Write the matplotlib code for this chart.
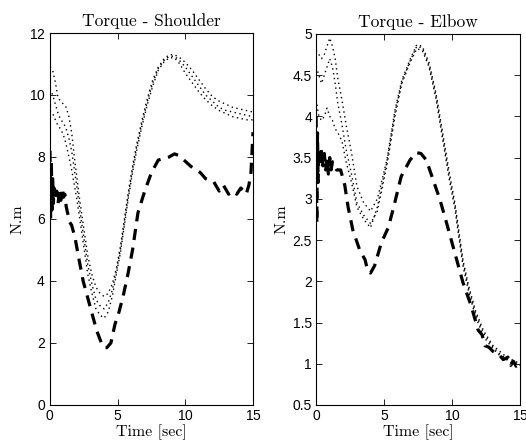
import matplotlib
matplotlib.use("Agg")
import matplotlib.pyplot as plt

plt.rcParams['font.family'] = ['Liberation Sans', 'DejaVu Sans']
plt.rcParams['axes.formatter.use_mathtext'] = True

# === Shoulder torque ===
sh_dash_t = [0, 0.05, 0.1, 0.15, 0.2, 0.25, 0.3, 0.4, 0.5, 0.6, 0.7, 0.8, 0.9, 1.0, 1.1, 1.2,
             1.3, 1.45, 1.6, 1.85, 2.1, 2.45, 2.95, 3.45, 3.8, 4.0, 4.2, 4.5, 4.8, 5.1, 5.4,
             5.75, 6.1, 6.5, 7.0, 7.5, 8.0, 8.4, 8.8, 9.2, 9.5, 9.9, 10.4, 11.1, 11.5, 12.1,
             12.5, 12.8, 13.2, 13.5, 13.8, 14.1, 14.3, 14.5, 14.7, 14.85, 15]
sh_dash_v = [8.2, 6.0, 7.9, 6.3, 7.3, 6.5, 7.0, 6.6, 6.9, 6.5, 6.9, 6.6, 7.0, 6.7, 6.8, 6.4,
             6.2, 5.9, 5.8, 5.4, 4.8, 4.0, 3.2, 2.4, 2.0, 1.85, 1.85, 2.0, 2.6, 3.0, 3.5,
             4.2, 5.0, 6.2, 6.9, 7.5, 7.9, 7.95, 8.0, 8.1, 8.05, 7.9, 7.7, 7.5, 7.3, 7.2,
             6.9, 7.1, 6.8, 6.9, 6.8, 7.0, 6.9, 6.8, 7.1, 7.5, 8.8]

sh_dot_t = [0, 0.2, 0.4, 0.6, 0.8, 1.0, 1.2, 1.4, 1.6, 1.8, 2.0, 2.2, 2.5, 2.8, 3.1, 3.4, 3.7,
            4.0, 4.3, 4.6, 4.9, 5.2, 5.5, 5.8, 6.1, 6.4, 6.8, 7.2, 7.6, 8.0, 8.4, 8.8, 9.2,
            9.6, 10.0, 10.5, 11.0, 11.5, 12.0, 12.5, 13.0, 13.5, 14.0, 14.5, 15.0]
sh_dot_a = [10.9, 10.8, 10.4, 9.9, 9.8, 9.7, 9.6, 9.3, 8.8, 8.0, 7.3, 6.6, 5.7, 4.8, 4.2, 3.8, 3.6,
            3.5, 3.6, 3.9, 4.4, 5.1, 6.0, 6.9, 7.7, 8.4, 9.2, 9.9, 10.5, 10.9, 11.15, 11.3, 11.3,
            11.2, 11.05, 10.8, 10.5, 10.2, 9.95, 9.8, 9.7, 9.6, 9.55, 9.5, 9.45]
sh_dot_b = [10.2, 10.0, 9.7, 9.4, 9.2, 9.1, 8.9, 8.6, 8.2, 7.6, 7.0, 6.3, 5.4, 4.5, 3.9, 3.4, 3.2,
            3.1, 3.3, 3.7, 4.3, 5.0, 5.9, 6.8, 7.6, 8.3, 9.1, 9.8, 10.4, 10.85, 11.1, 11.25, 11.25,
            11.1, 10.9, 10.6, 10.3, 10.0, 9.8, 9.6, 9.5, 9.45, 9.4, 9.35, 9.3]
sh_dot_c = [9.5, 9.4, 9.2, 9.0, 8.9, 8.7, 8.4, 8.0, 7.6, 7.1, 6.6, 6.0, 5.1, 4.2, 3.6, 3.1, 2.9,
            2.8, 3.0, 3.5, 4.2, 4.9, 5.8, 6.7, 7.5, 8.2, 9.0, 9.7, 10.3, 10.8, 11.05, 11.2, 11.2,
            11.0, 10.7, 10.4, 10.1, 9.85, 9.65, 9.5, 9.4, 9.3, 9.25, 9.2, 9.2]

# === Elbow torque ===
el_dash_t = [0, 0.05, 0.1, 0.15, 0.2, 0.3, 0.4, 0.5, 0.6, 0.7, 0.8, 0.9, 1.0, 1.1, 1.2, 1.35,
             1.5, 1.8, 2.1, 2.35, 2.7, 3.2, 3.6, 3.8, 4.0, 4.3, 4.8, 5.3, 5.7, 6.25, 6.9, 7.35,
             7.7, 8.1, 8.6, 9.1, 9.6, 10.2, 10.8, 11.4, 11.9, 12.2, 12.4, 12.7, 13.0, 13.4,
             13.75, 14.1, 14.3, 14.5, 14.7, 15]
el_dash_v = [4.0, 2.7, 3.8, 3.2, 3.6, 3.4, 3.6, 3.4, 3.55, 3.35, 3.5, 3.3, 3.5, 3.35, 3.45, 3.4,
             3.35, 3.35, 3.17, 2.9, 2.62, 2.38, 2.26, 2.12, 2.1, 2.19, 2.47, 2.65, 2.9, 3.27, 3.47, 3.56,
             3.55, 3.47, 3.23, 2.99, 2.7, 2.34, 1.98, 1.7, 1.41, 1.35, 1.22, 1.2, 1.15, 1.12,
             1.05, 1.08, 0.98, 1.03, 0.97, 1.0]

el_dot_t = [0, 0.2, 0.4, 0.6, 0.8, 1.0, 1.2, 1.4, 1.6, 1.9, 2.2, 2.6, 3.0, 3.5, 4.0, 4.5, 5.2,
            5.8, 6.3, 6.9, 7.4, 7.8, 8.3, 8.8, 9.3, 9.8, 10.2, 10.5, 10.8, 11.2, 11.7, 12.3,
            13.0, 13.5, 14.0, 14.5, 15.0]
el_dot_a = [4.8, 4.75, 4.7, 4.75, 4.85, 4.95, 4.85, 4.7, 4.45, 4.2, 3.9, 3.56, 3.15, 2.95, 2.85, 3.0, 3.47,
            4.08, 4.44, 4.69, 4.87, 4.85, 4.65, 4.29, 3.8, 3.31, 2.95, 2.6, 2.25, 1.95, 1.65, 1.4,
            1.22, 1.15, 1.08, 1.04, 1.0]
el_dot_b = [4.6, 4.5, 4.4, 4.5, 4.6, 4.7, 4.6, 4.4, 4.15, 3.9, 3.6, 3.3, 2.95, 2.8, 2.7, 2.85, 3.4,
            4.0, 4.4, 4.65, 4.82, 4.8, 4.6, 4.22, 3.72, 3.22, 2.88, 2.52, 2.18, 1.88, 1.58, 1.33,
            1.18, 1.1, 1.05, 1.0, 0.98]
el_dot_c = [4.2, 4.0, 3.95, 4.0, 4.1, 4.0, 3.95, 3.85, 3.8, 3.7, 3.45, 3.2, 2.9, 2.75, 2.65, 2.9, 3.45,
            4.05, 4.42, 4.67, 4.85, 4.83, 4.62, 4.26, 3.76, 3.26, 2.92, 2.56, 2.22, 1.92, 1.62, 1.37,
            1.2, 1.12, 1.06, 1.02, 0.99]

fig = plt.figure(figsize=(5.26, 4.46), dpi=100)
ax1 = fig.add_axes([0.095, 0.092, 0.386, 0.834])
ax2 = fig.add_axes([0.601, 0.092, 0.388, 0.832])

dash = dict(color='black', lw=2.3, linestyle=(0, (3.5, 2.4)))
dot = dict(color='black', lw=1.0, linestyle=(0, (1, 2.5)))

ax1.plot(sh_dot_t, sh_dot_a, **dot)
ax1.plot(sh_dot_t, sh_dot_b, **dot)
ax1.plot(sh_dot_t, sh_dot_c, **dot)
ax1.plot(sh_dash_t, sh_dash_v, **dash)

ax2.plot(el_dot_t, el_dot_a, **dot)
ax2.plot(el_dot_t, el_dot_b, **dot)
ax2.plot(el_dot_t, el_dot_c, **dot)
ax2.plot(el_dash_t, el_dash_v, **dash)

ax1.set_xlim(0, 15)
ax1.set_ylim(0, 12)
ax1.set_yticks([0, 2, 4, 6, 8, 10, 12])
ax2.set_xlim(0, 15)
ax2.set_ylim(0.5, 5)
ax2.set_yticks([0.5, 1, 1.5, 2, 2.5, 3, 3.5, 4, 4.5, 5])
ax2.set_yticklabels(['0.5', '1', '1.5', '2', '2.5', '3', '3.5', '4', '4.5', '5'])

serif = dict(family='cmr10', fontsize=11.5)
for ax, title in [(ax1, 'Torque - Shoulder'), (ax2, 'Torque - Elbow')]:
    ax.set_xticks([0, 5, 10, 15])
    ax.tick_params(direction='in', top=True, right=True, length=4, width=0.6, labelsize=10, pad=3)
    for s in ax.spines.values():
        s.set_linewidth(0.8)
    ax.set_title(title, pad=5, family='cmr10', fontsize=12.5)
    ax.set_xlabel('Time [sec]', labelpad=1, **serif)
    ax.set_ylabel('N.m', labelpad=3, **serif)

fig.savefig('out.png', dpi=100)
